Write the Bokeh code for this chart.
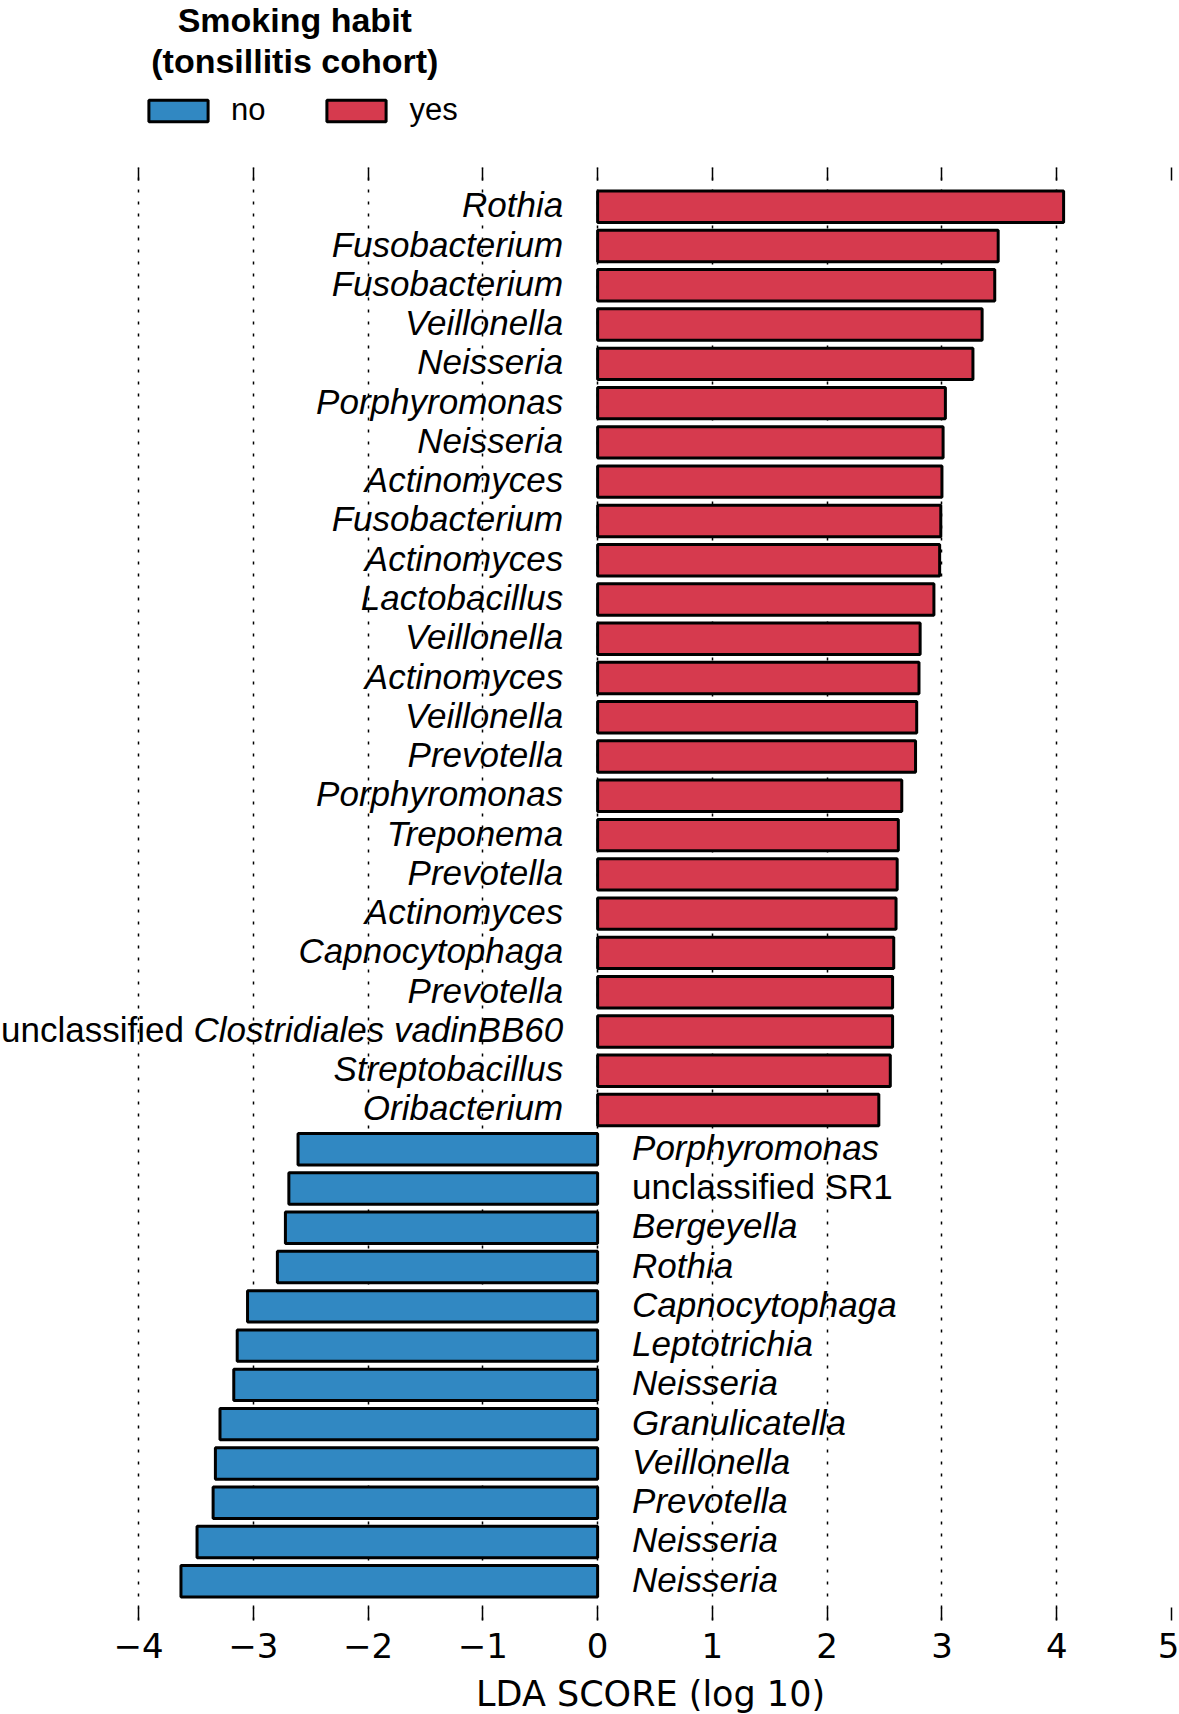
from bokeh.plotting import figure
from bokeh.layouts import column
from bokeh.models import (ColumnDataSource, FixedTicker, LinearAxis, Range1d,
                          Legend, LegendItem)
from bokeh.core.properties import value
from bokeh.embed import file_html
from bokeh.resources import INLINE

# ---------------- data (top bar first) ----------------
taxa = [
    "Rothia", "Fusobacterium", "Fusobacterium", "Veillonella", "Neisseria",
    "Porphyromonas", "Neisseria", "Actinomyces", "Fusobacterium", "Actinomyces",
    "Lactobacillus", "Veillonella", "Actinomyces", "Veillonella", "Prevotella",
    "Porphyromonas", "Treponema", "Prevotella", "Actinomyces", "Capnocytophaga",
    "Prevotella", "unclassified Clostridiales vadinBB60", "Streptobacillus",
    "Oribacterium",
    "Porphyromonas", "unclassified SR1", "Bergeyella", "Rothia",
    "Capnocytophaga", "Leptotrichia", "Neisseria", "Granulicatella",
    "Veillonella", "Prevotella", "Neisseria", "Neisseria",
]
lda_scores = [
    4.06, 3.49, 3.46, 3.35, 3.27, 3.03, 3.01, 3.00, 2.99, 2.98, 2.93, 2.81,
    2.80, 2.78, 2.77, 2.65, 2.62, 2.61, 2.60, 2.58, 2.57, 2.57, 2.55, 2.45,
    -2.61, -2.69, -2.72, -2.79, -3.05, -3.14, -3.17, -3.29, -3.33, -3.35,
    -3.49, -3.63,
]
classes = ["no", "yes"]
upright_taxa = {"SR1"}            # candidate phylum, not italicised
tick_values = [-4, -3, -2, -1, 0, 1, 2, 3, 4, 5]
tick_labels = ["\u22124", "\u22123", "\u22122", "\u22121", "0", "1", "2", "3", "4", "5"]
title_lines = ["Smoking habit", "(tonsillitis cohort)"]
x_label = "LDA SCORE (log 10)"

# ---------------- layout ----------------
PAGE_W, PAGE_H = 1179, 1714
HEAD_H = 147                 # header (title + legend)
FOOT_H = 41                  # footer (x-axis title)
W, H = PAGE_W, PAGE_H - HEAD_H - FOOT_H
BL, BR, BT, BB = 0, 8, 20, 53
TICK_LEFT_PX = 138           # page x of the first tick
XMIN_T, XMAX = tick_values[0], tick_values[-1]
FW = W - BL - BR
unit = (FW - TICK_LEFT_PX) / (XMAX - XMIN_T)
XMIN = XMIN_T - TICK_LEFT_PX / unit
n = len(taxa)
YMIN, YMAX = -1, n
RED = "#D63A4E"
BLUE = "#3188C2"
LABEL_FONT = "Liberation Sans"
LBL_PX = 35
BASE_FIX = -12               # baseline correction of the text glyph

ARIAL_W = {c: 0.556 for c in "abdeghnopqu0123456789"}
ARIAL_W.update({"c": .5, "k": .5, "s": .5, "v": .5, "x": .5, "y": .5, "z": .5,
                "f": .278, "t": .278, "i": .222, "j": .222, "l": .222,
                "r": .333, "m": .833, "w": .722, " ": .278, "B": .667,
                "C": .722, "S": .667, "R": .722})


def text_width(s, size_px):
    return sum(ARIAL_W.get(ch, 0.6) for ch in s) * size_px


ys = [n - 1 - i for i in range(n)]
pos = dict(y=[y for y, v in zip(ys, lda_scores) if v > 0],
           v=[v for v in lda_scores if v > 0])
neg = dict(y=[y for y, v in zip(ys, lda_scores) if v < 0],
           v=[v for v in lda_scores if v < 0])
src_pos = ColumnDataSource(pos)
src_neg = ColumnDataSource(neg)

# ---------------- main chart ----------------
p = figure(width=W, height=H, output_backend="svg", toolbar_location=None,
           x_range=Range1d(XMIN, XMAX), y_range=Range1d(YMIN, YMAX),
           min_border_left=BL, min_border_right=BR, min_border_top=BT,
           min_border_bottom=BB, y_axis_location=None,
           background_fill_color="white", border_fill_color="white")
p.outline_line_color = None

p.ygrid.visible = False
p.xgrid.ticker = FixedTicker(ticks=tick_values)
p.xgrid.grid_line_color = "black"
p.xgrid.grid_line_dash = "3 9"
p.xgrid.grid_line_width = 1.5

overrides = {v: lab for v, lab in zip(tick_values, tick_labels)}
ax = p.xaxis[0]
ax.ticker = FixedTicker(ticks=tick_values)
ax.major_label_overrides = overrides
ax.axis_line_color = None
ax.major_tick_in = 13
ax.major_tick_out = 0
ax.major_tick_line_width = 1.5
ax.major_tick_line_color = "black"
ax.minor_tick_line_color = None
ax.major_label_text_font = "DejaVu Sans"
ax.major_label_text_font_size = "34px"
ax.major_label_text_color = "black"
ax.major_label_standoff = 12

top = LinearAxis(ticker=FixedTicker(ticks=tick_values), axis_line_color=None,
                 major_tick_in=13, major_tick_out=0, major_tick_line_width=1.5,
                 major_tick_line_color="black", minor_tick_line_color=None,
                 major_label_text_color=None, major_label_text_font_size="1px",
                 major_label_standoff=0)
p.add_layout(top, "above")

bar_style = dict(line_color="black", line_width=3)
r_pos = p.hbar(y="y", left=0, right="v", height=0.8, source=src_pos,
               fill_color=RED, **bar_style)
r_neg = p.hbar(y="y", left=0, right="v", height=0.8, source=src_neg,
               fill_color=BLUE, **bar_style)

groups = {}
for y, name, v in zip(ys, taxa, lda_scores):
    align = "right" if v > 0 else "left"
    x = -0.3 if v > 0 else 0.3
    prefix, rest = "", name
    if name.startswith("unclassified "):
        prefix, rest = "unclassified ", name[len("unclassified "):]
    parts = []
    if rest in upright_taxa:
        parts.append((prefix + rest, "normal", 0.0))
    elif prefix:
        if v > 0:
            parts.append((rest, "italic", 0.0))
            parts.append((prefix.strip(), "normal",
                          -(text_width(rest, LBL_PX) + text_width(" ", LBL_PX))))
        else:
            parts.append((prefix.strip(), "normal", 0.0))
            parts.append((rest, "italic", text_width(prefix, LBL_PX)))
    else:
        parts.append((rest, "italic", 0.0))
    for txt, style, xo in parts:
        g = groups.setdefault((align, style), dict(x=[], y=[], t=[], xo=[]))
        g["x"].append(x)
        g["y"].append(y)
        g["t"].append(txt)
        g["xo"].append(xo)

for (align, style), g in groups.items():
    p.text(x="x", y="y", text="t", x_offset="xo", source=ColumnDataSource(g),
           text_align=align, text_baseline="alphabetic", y_offset=10 + BASE_FIX,
           text_font=value(LABEL_FONT), text_font_style=style,
           text_font_size=f"{LBL_PX}px", text_color="black")

# ---------------- header: title + legend ----------------
h = figure(width=PAGE_W, height=HEAD_H, output_backend="svg", toolbar_location=None,
           x_range=Range1d(0, PAGE_W), y_range=Range1d(HEAD_H, 0),
           min_border=0, x_axis_location=None, y_axis_location=None,
           background_fill_color="white", border_fill_color="white")
h.outline_line_color = None
h.grid.visible = False

h.text(x=[296.3, 296.3], y=[31 + BASE_FIX, 72 + BASE_FIX], text=title_lines,
       text_align="center", text_baseline="alphabetic",
       text_font=value(LABEL_FONT), text_font_style="bold",
       text_font_size="34px", text_color="black")

# legend entries share the bar data and styling (renderers hidden in header)
l_neg = h.hbar(y="y", left=0, right="v", height=0.8, source=src_neg,
               fill_color=BLUE, visible=False, **bar_style)
l_pos = h.hbar(y="y", left=0, right="v", height=0.8, source=src_pos,
               fill_color=RED, visible=False, **bar_style)
legend = Legend(items=[LegendItem(label=classes[0], renderers=[l_neg]),
                       LegendItem(label=classes[1], renderers=[l_pos])],
                orientation="horizontal", location=(141, 19),
                glyph_width=74, glyph_height=27, label_standoff=16, spacing=54,
                padding=0, margin=0, border_line_color=None,
                background_fill_alpha=0, inactive_fill_alpha=0,
                label_text_font=LABEL_FONT, label_text_font_size="31px",
                label_text_color="black")
h.add_layout(legend)

# ---------------- footer: x-axis title ----------------
foot_top = PAGE_H - FOOT_H
f = figure(width=PAGE_W, height=FOOT_H, output_backend="svg", toolbar_location=None,
           x_range=Range1d(0, PAGE_W), y_range=Range1d(FOOT_H, 0),
           min_border=0, x_axis_location=None, y_axis_location=None,
           background_fill_color="white", border_fill_color="white")
f.outline_line_color = None
f.grid.visible = False
axis_mid_px = TICK_LEFT_PX + unit * (XMAX - XMIN_T) / 2
f.text(x=[axis_mid_px], y=[1705.5 - foot_top + BASE_FIX], text=[x_label],
       text_align="center", text_baseline="alphabetic",
       text_font=value("DejaVu Sans"), text_font_size="35px", text_color="black")

layout = column(h, p, f, spacing=0)
open("out.html", "w").write(file_html(layout, INLINE))
